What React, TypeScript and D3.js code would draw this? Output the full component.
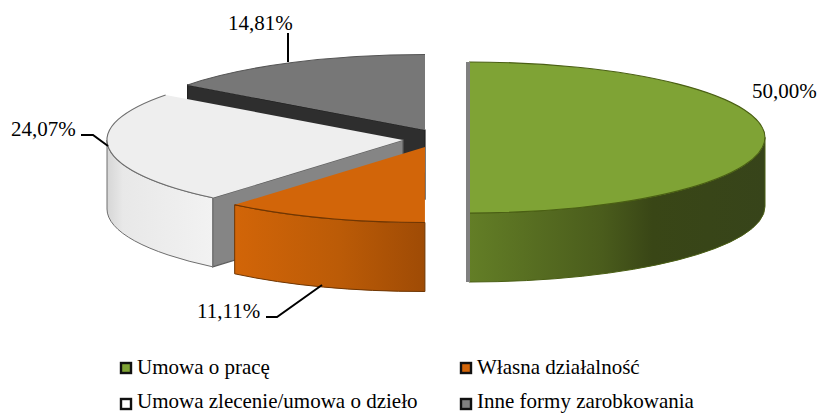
import React, { useEffect, useRef } from 'react';
import * as d3 from 'd3';

const categories = ['Umowa o pracę', 'Własna działalność', 'Umowa zlecenie/umowa o dzieło', 'Inne formy zarobkowania'];
const values = [50.0, 11.11, 24.07, 14.81];
const valueLabels = ['50,00%', '11,11%', '24,07%', '14,81%'];
const topColours = ['#7fa335', '#d26509', '#eeeeee', '#777777'];
const edgeColours = ['#4a5f14', '#6f3603', '#6e6e6e', '#555555'];
const cutColours = ['#808080', '#8a4505', '#858585', '#2e2e2e'];
const legendColours = ['#7fa335', '#d26509', '#ffffff', '#808080'];
const wallStops = [
  [['0%', '#637e26'], ['45%', '#4a5c1c'], ['62%', '#394616'], ['100%', '#37441a']],
  [['0%', '#d26508'], ['55%', '#bb5b07'], ['100%', '#9f4b05']],
  [['0%', '#d6d6d6'], ['15%', '#e8e8e8'], ['100%', '#f2f2f2']],
  [['0%', '#777777'], ['100%', '#777777']],
];

// centre of each exploded slice
const centres = [[469, 137.5], [425, 147], [403, 140], [425, 130]];
const rx = 296;
const ry = 75.5;
const depth = 69;

const leaderLines = [
  null,
  [[266, 317], [277, 317], [322, 285]],
  [[81, 135], [93, 135], [108, 146]],
  [[288, 33], [288, 62]],
];
const labelPos = [[752, 98], [197, 318], [11, 136], [228, 30]];
const legendPos = [[121, 363], [461, 363], [121, 399], [461, 399]];
// second row sits a little high so its descenders stay inside the picture
const legendBaselines = [374, 374, 408, 408];

const App = () => {
  const ref = useRef<SVGSVGElement>(null);

  useEffect(() => {
    const svg = d3.select(ref.current);
    svg.selectAll('*').remove();

    const slices = d3.pie<number>().sort(null)(values);
    const arc = d3.arc<any>().innerRadius(0).outerRadius(rx);
    const defs = svg.append('defs');

    const pt = (i: number, a: number, dy = 0) => {
      const [cx, cy] = centres[i];
      return [cx + rx * Math.sin(a), cy - ry * Math.cos(a) + dy];
    };

    wallStops.forEach((stops, i) => {
      const g = defs.append('linearGradient').attr('id', `wall-${i}`).attr('x1', 0).attr('x2', 1).attr('y1', 0).attr('y2', 0);
      stops.forEach(([o, c]) => g.append('stop').attr('offset', o).attr('stop-color', c));
    });

    // back to front: grey, white, orange, green
    [3, 2, 1, 0].forEach(i => {
      const s = slices[i];
      const [cx, cy] = centres[i];
      const g = svg.append('g');

      // radial cut wall facing the viewer
      if (i === 2 || i === 3) {
        const a = pt(i, s.startAngle);
        g.append('path')
          .attr('d', `M${a[0]},${a[1]}L${cx},${cy}L${cx},${cy + depth}L${a[0]},${a[1] + depth}Z`)
          .attr('fill', cutColours[i])
          .attr('stroke', i === 2 ? '#5e5e5e' : '#222')
          .attr('stroke-width', 1.2);
      }

      // outer wall, front half of the ellipse only
      const from = Math.max(s.startAngle, Math.PI / 2);
      const to = Math.min(s.endAngle, (3 * Math.PI) / 2);
      if (to > from) {
        const p0 = pt(i, from);
        const p1 = pt(i, to);
        g.append('path')
          .attr('d', `M${p0[0]},${p0[1]}A${rx},${ry} 0 0 1 ${p1[0]},${p1[1]}L${p1[0]},${p1[1] + depth}A${rx},${ry} 0 0 0 ${p0[0]},${p0[1] + depth}Z`)
          .attr('fill', `url(#wall-${i})`)
          .attr('stroke', edgeColours[i])
          .attr('stroke-width', 1);
      }

      // top face
      g.append('path')
        .attr('transform', `translate(${cx},${cy}) scale(1,${ry / rx})`)
        .attr('d', arc(s))
        .attr('fill', topColours[i]);
      const e0 = pt(i, s.startAngle);
      const e1 = pt(i, s.endAngle);
      g.append('path')
        .attr('d', `M${e0[0]},${e0[1]}A${rx},${ry} 0 ${s.endAngle - s.startAngle > Math.PI ? 1 : 0} 1 ${e1[0]},${e1[1]}`)
        .attr('fill', 'none')
        .attr('stroke', edgeColours[i])
        .attr('stroke-width', 1.1);
    });

    // thin grey cut edge down the left side of the large slice
    svg.append('rect')
      .attr('x', centres[0][0] - 3)
      .attr('y', centres[0][1] - ry)
      .attr('width', 4)
      .attr('height', 2 * ry + depth)
      .attr('fill', cutColours[0]);

    const line = d3.line();
    leaderLines.forEach(l => {
      if (!l) return;
      svg.append('path')
        .attr('d', line(l as [number, number][]))
        .attr('fill', 'none')
        .attr('stroke', '#000')
        .attr('stroke-width', 2);
    });

    valueLabels.forEach((t, i) => {
      svg.append('text')
        .attr('x', labelPos[i][0])
        .attr('y', labelPos[i][1])
        .attr('font-family', '"Liberation Serif", serif')
        .attr('font-size', 21)
        .attr('fill', '#000')
        .text(t);
    });

    categories.forEach((t, i) => {
      const [x, y] = legendPos[i];
      svg.append('rect')
        .attr('x', x)
        .attr('y', y)
        .attr('width', 10)
        .attr('height', 10)
        .attr('fill', legendColours[i])
        .attr('stroke', '#111')
        .attr('stroke-width', 2.4);
      svg.append('text')
        .attr('x', x + 16)
        .attr('y', legendBaselines[i])
        .attr('font-family', '"Liberation Serif", serif')
        .attr('font-size', 21)
        .attr('fill', '#000')
        .text(t);
    });
  }, []);

  return <svg ref={ref} width={819} height={413} style={{ position: 'absolute', left: 0, top: 0, background: '#fff' }} />;
};

export default App;
